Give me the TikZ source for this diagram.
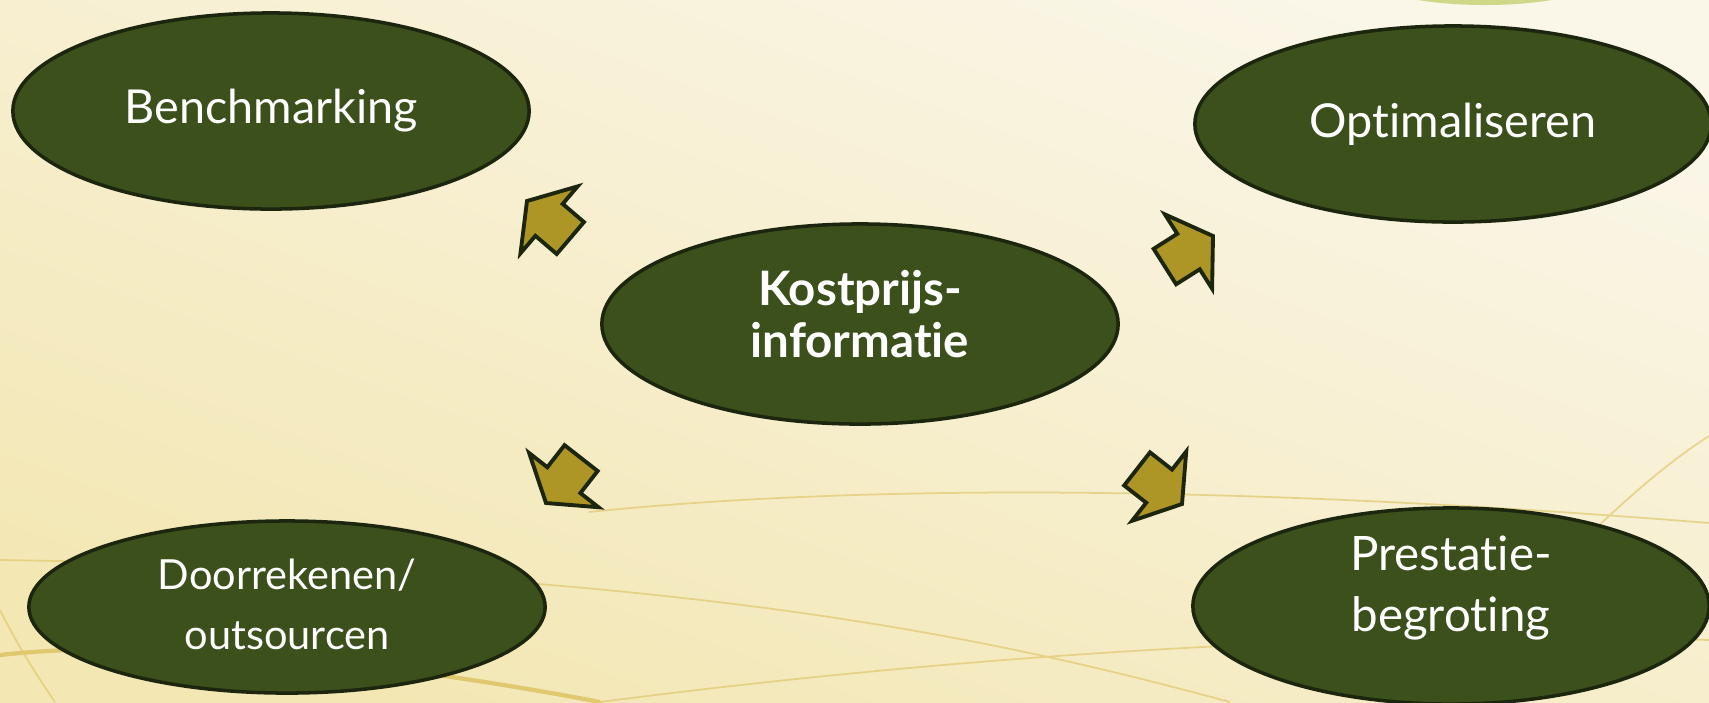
\documentclass[tikz,border=0pt]{standalone}
\usepackage{fontspec}
\setmainfont{Lato}[Ligatures=NoCommon]
\usetikzlibrary{shapes.geometric}
\definecolor{groen}{RGB}{59,80,27}
\definecolor{rand}{RGB}{28,38,14}
\definecolor{oker}{RGB}{173,150,38}
\definecolor{creme}{RGB}{250,246,232}
\definecolor{zand}{RGB}{243,231,180}
\definecolor{goud}{RGB}{224,200,110}
\definecolor{licht}{RGB}{206,216,136}

\begin{document}
\begin{tikzpicture}[x=0.01cm,y=-0.01cm,
  bol/.style={ellipse,draw=rand,line width=1pt,fill=groen,text=white,minimum width=5.16cm,minimum height=1.96cm,inner sep=0pt,align=center,font=\fontsize{13.3}{17.6}\selectfont},
  tekst/.style={text=white,align=center,inner sep=0pt},
  pijl/.pic={\filldraw[draw=rand,line width=1.1pt,fill=oker,line join=miter]
    (0,0) -- (-29,44) -- (-29,21) -- (-57,21) -- (-57,-21) -- (-29,-21) -- (-29,-44) -- cycle;},
  lijn/.style={goud,line width=0.5pt,opacity=0.7}]
  \useasboundingbox (0,0) rectangle (1709,702);
  \clip (0,0) rectangle (1709,702);
  \shade[top color=creme,bottom color=zand,shading angle=-20] (0,0) rectangle (1709,702);
  \fill[licht] (1485,-22) ellipse (115 and 27);
  \draw[lijn] (0,560) .. controls (700,570) and (1000,640) .. (1230,702)
              (589,512) .. controls (900,480) and (1300,490) .. (1709,523)
              (1480,650) .. controls (1560,560) and (1640,480) .. (1709,436)
              (600,702) .. controls (1000,650) and (1400,630) .. (1709,640)
              (0,610) .. controls (20,650) and (40,680) .. (55,702);
  \draw[goud,line width=1.2pt] (0,655) .. controls (150,638) and (380,660) .. (600,702);
  \node[bol] (bench) at (271,111) {Benchmarking};
  \node[bol] (optim) at (1453,124) {Optimaliseren};
  \node[bol,minimum height=2cm,label={[tekst,yshift=0.1cm,font=\fontsize{13.5}{14.8}\selectfont\bfseries]center:{Kostprijs-\\informatie}}] (kost) at (860,324) {};
  \node[bol,minimum height=1.72cm,label={[tekst,yshift=0.03cm,font=\fontsize{11.8}{17}\selectfont]center:{Doorrekenen/\\outsourcen}}] (door) at (287,607) {};
  \node[bol,label={[tekst,yshift=0.18cm,font=\fontsize{13.5}{17.6}\selectfont]center:{Prestatie-\\begroting}}] (prest) at (1451,606) {};
  \pic[rotate=139.5] (naarbench) at (527,201) {pijl};
  \pic[rotate=32.4] (naaroptim) at (1213,236) {pijl};
  \pic[rotate=232] (naardoor) at (546,503) {pijl};
  \pic[rotate=-38] (naarprest) at (1182,504) {pijl};
\end{tikzpicture}
\end{document}
